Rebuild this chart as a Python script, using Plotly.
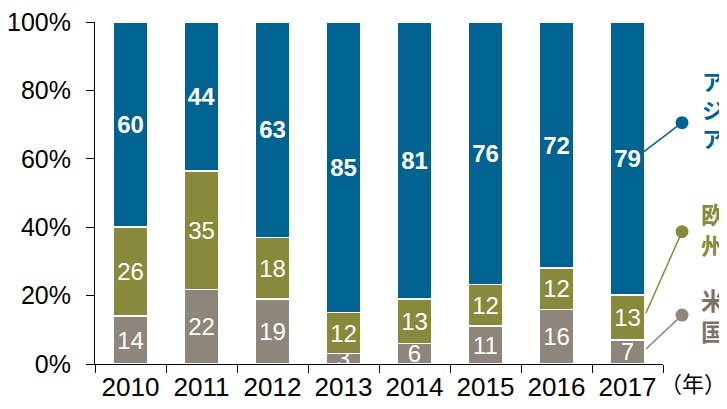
import plotly.graph_objects as go

years = ["2010", "2011", "2012", "2013", "2014", "2015", "2016", "2017"]
us = [14, 22, 19, 3, 6, 11, 16, 7]
europe = [26, 35, 18, 12, 13, 12, 12, 13]
asia = [60, 44, 63, 85, 81, 76, 72, 79]
y_ticks = [0, 20, 40, 60, 80, 100]
y_tick_labels = ["0%", "20%", "40%", "60%", "80%", "100%"]

C_US = "#8E857B"
C_EU = "#868A3A"
C_AS = "#006391"
FONT = "Liberation Sans, Arial, Noto Sans CJK JP, sans-serif"

fig = go.Figure()
for name, vals, col, bold in [("米国", us, C_US, False), ("欧州", europe, C_EU, False), ("アジア", asia, C_AS, True)]:
    fig.add_trace(go.Bar(
        x=years, y=vals, name=name,
        marker=dict(color=col, line=dict(color="white", width=1.5)),
        text=[f"<b>{v}</b>" if bold else str(v) for v in vals],
        textposition="inside", insidetextanchor="middle",
        constraintext="none", textangle=0,
        insidetextfont=dict(color="white", size=24, family=FONT),
        cliponaxis=True, showlegend=False,
    ))

# page body has an 8px margin: size the figure so the plot lands where the reference has it
fig.update_layout(
    barmode="stack", barnorm="percent", bargap=0.52,
    width=719, height=393,
    margin=dict(l=87, r=64, t=14, b=37, autoexpand=False),
    plot_bgcolor="white", paper_bgcolor="white",
    font=dict(family=FONT, size=26, color="black"),
    xaxis=dict(
        showline=True, linecolor="black", linewidth=1,
        ticks="outside", ticklen=8, tickcolor="black", tickson="boundaries",
        tickfont=dict(size=26), showgrid=False, range=[-0.5, 7.5],
        automargin=False,
    ),
    yaxis=dict(
        range=[0, 100], tickvals=y_ticks, ticktext=y_tick_labels,
        showline=True, linecolor="black", linewidth=1,
        ticks="outside", ticklen=8, tickcolor="black",
        tickfont=dict(size=25), showgrid=False, zeroline=False,
        ticklabelstandoff=10, automargin=False, ticklabeloverflow="allow",
    ),
)

# legend labels
legend_items = [
    ("アジア", C_AS, 0.74, 0.7056, (0.9665, 0.621), 22),
    ("欧州", C_EU, 0.389, 0.387, (0.970, 0.149), 24),
    ("米国", "#7A736B", 0.136, 0.143, (0.970, 0.044), 24),
]
line_cols = [C_AS, C_EU, C_US]
for (label, tcol, ty, cy, end, fs), lc in zip(legend_items, line_cols):
    fig.add_annotation(
        text="<b>" + "<br>".join(label) + "</b>", x=1.088, y=ty,
        xref="paper", yref="paper", showarrow=False,
        font=dict(size=fs, color=tcol, family=FONT), xanchor="center", yanchor="middle",
    )
    fig.add_shape(type="line", xref="paper", yref="paper",
                  x0=end[0], y0=end[1], x1=1.0335, y1=cy,
                  line=dict(color=lc, width=1.5))
    fig.add_shape(type="circle", xref="paper", yref="paper",
                  xsizemode="pixel", ysizemode="pixel",
                  xanchor=1.0335, yanchor=cy, x0=-6.5, x1=6.5, y0=-6.5, y1=6.5,
                  fillcolor=lc, line=dict(width=0))

fig.add_annotation(text="（年）", x=1.053, y=-0.061, xref="paper", yref="paper",
                   showarrow=False, font=dict(size=22, color="black", family=FONT),
                   xanchor="center", yanchor="middle")

fig.write_html("out.html")
